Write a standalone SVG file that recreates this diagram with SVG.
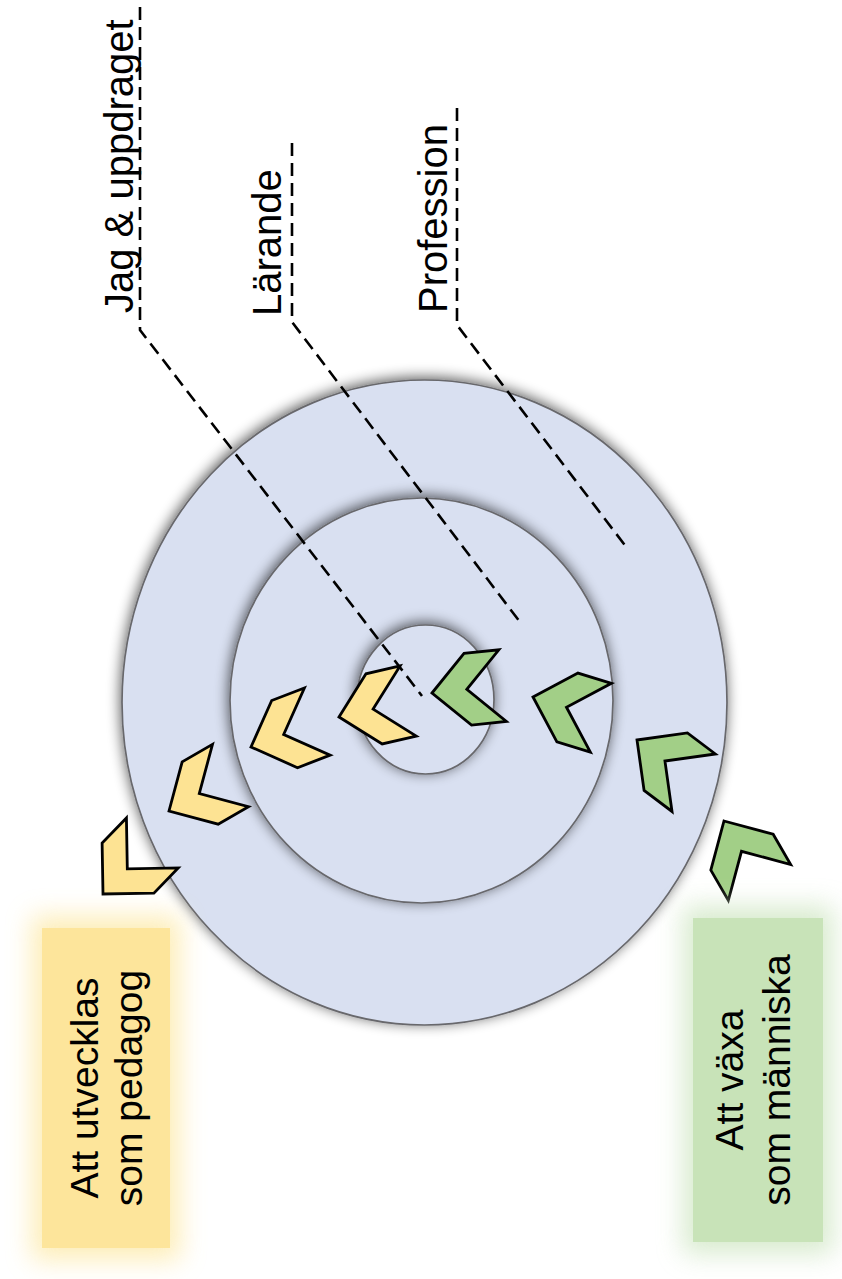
<svg xmlns="http://www.w3.org/2000/svg" width="842" height="1279" viewBox="0 0 842 1279">
  <style>
    .ring { fill: #d9e0f1; stroke: #68686c; stroke-width: 1.7; filter: url(#shade); }
    .lead { fill: none; stroke: #000; stroke-width: 2.6; stroke-dasharray: 13 7; }
    .lbl { font-family: "Liberation Sans", Arial, sans-serif; font-size: 40px; fill: #000; }
    .box-text { font-family: "Liberation Sans", Arial, sans-serif; font-size: 39px; fill: #000; text-anchor: middle; }
    .chev { stroke: #000; stroke-width: 2.8; stroke-linejoin: miter; }
    .yel { fill: #fde393; }
    .grn { fill: #a2cf87; }
  </style>
  <defs>
    <filter id="shade" x="-15%" y="-15%" width="130%" height="130%">
      <feGaussianBlur in="SourceAlpha" stdDeviation="7"/>
      <feOffset dx="-1" dy="-2" result="blur"/>
      <feComponentTransfer>
        <feFuncA type="linear" slope="0.65"/>
      </feComponentTransfer>
      <feMerge>
        <feMergeNode/>
        <feMergeNode in="SourceGraphic"/>
      </feMerge>
    </filter>
    <filter id="glow" x="-40%" y="-40%" width="180%" height="180%">
      <feGaussianBlur stdDeviation="13"/>
    </filter>
    <!-- chevron: outer corner at origin, notch along +x -->
    <path id="chev" d="M0,0 L36,-36 L71,-36 L35,0 L71,36 L36,36 Z"/>
  </defs>

  <rect width="842" height="1279" fill="#fff"/>

  <!-- concentric rings -->
  <g id="ring-profession">
    <ellipse class="ring" cx="424.5" cy="702.5" rx="302.5" ry="322.5"/>
  </g>
  <g id="ring-larande">
    <ellipse class="ring" cx="421.5" cy="700.5" rx="191.5" ry="202.5"/>
  </g>
  <g id="ring-jag">
    <ellipse class="ring" cx="425.5" cy="699.5" rx="68.5" ry="74.5"/>
  </g>

  <!-- leader lines -->
  <g id="connectors">
    <polyline class="lead" points="140,7 140,330 422,696"/>
    <polyline class="lead" points="292,143 292,322 520,622"/>
    <polyline class="lead" points="457,108 457,325 627,548"/>
  </g>

  <!-- ring labels -->
  <g id="label-jag">
    <text class="lbl" transform="translate(133,313) rotate(-90)">Jag &amp; uppdraget</text>
  </g>
  <g id="label-larande">
    <text class="lbl" transform="translate(281,316) rotate(-90)">Lärande</text>
  </g>
  <g id="label-profession">
    <text class="lbl" transform="translate(447,313) rotate(-90)">Profession</text>
  </g>

  <!-- chevron trail: pedagog -->
  <g id="chevrons-pedagog">
    <use href="#chev" class="chev yel" transform="translate(339,717) rotate(-13)"/>
    <use href="#chev" class="chev yel" transform="translate(251,747) rotate(-21)"/>
    <use href="#chev" class="chev yel" transform="translate(169,811) rotate(-30)"/>
    <use href="#chev" class="chev yel" transform="translate(103,894) rotate(-46)"/>
  </g>

  <!-- chevron trail: människa -->
  <g id="chevrons-manniska">
    <use href="#chev" class="chev grn" transform="translate(432,693) rotate(-6)"/>
    <use href="#chev" class="chev grn" transform="translate(533,697) rotate(17)"/>
    <use href="#chev" class="chev grn" transform="translate(637,740) rotate(37)"/>
    <use href="#chev" class="chev grn" transform="translate(724,821) rotate(60)"/>
  </g>

  <!-- box: pedagog -->
  <g id="box-pedagog">
    <rect x="32" y="916" width="148" height="344" fill="#fde9a6" opacity="0.8" filter="url(#glow)"/>
    <rect x="42" y="928" width="128" height="320" fill="#fde59b"/>
    <text class="box-text" transform="translate(98,1088) rotate(-90)">Att utvecklas</text>
    <text class="box-text" transform="translate(142,1088) rotate(-90)">som pedagog</text>
  </g>

  <!-- box: människa -->
  <g id="box-manniska">
    <rect x="683" y="906" width="150" height="348" fill="#cfe6c2" opacity="0.8" filter="url(#glow)"/>
    <rect x="693" y="918" width="130" height="324" fill="#c8e3b8"/>
    <text class="box-text" transform="translate(743,1080) rotate(-90)">Att växa</text>
    <text class="box-text" transform="translate(790,1080) rotate(-90)">som människa</text>
  </g>
</svg>
